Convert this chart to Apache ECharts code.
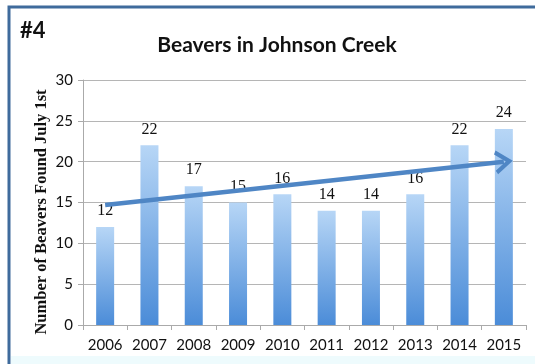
<!DOCTYPE html>
<html><head><meta charset="utf-8">
<script src="https://cdn.jsdelivr.net/npm/echarts@6/dist/echarts.min.js"></script>
<style>html,body{margin:0;padding:0;background:#fff}#c{width:535px;height:364px}</style>
</head><body><div id="c"></div>
<script>
const years = ['2006','2007','2008','2009','2010','2011','2012','2013','2014','2015'];
const beavers = [12, 22, 17, 15, 16, 14, 14, 16, 22, 24];
const trendStart = ['2006', 14.7];
const trendEnd = ['2015', 20];
const yTicks = [0, 5, 10, 15, 20, 25, 30];

const chart = echarts.init(document.getElementById('c'));
chart.setOption({
  animation: false,
  backgroundColor: '#ffffff',
  title: {
    text: 'Beavers in Johnson Creek',
    left: 272, top: 30, textAlign: 'center',
    textStyle: { fontFamily: 'Lato', fontWeight: 'bold', fontSize: 21, color: '#111' }
  },
  graphic: [
    { type: 'rect', shape: { x: 9, y: 7, width: 540, height: 400 }, style: { fill: 'none', stroke: '#3f6b9c', lineWidth: 3 }, z: 10 },
    { type: 'rect', shape: { x: 11, y: 356, width: 530, height: 10 }, style: { fill: '#eefbfd' }, z: 0 },
    { type: 'text', left: 20, top: 20, style: { text: '#4', font: 'bold 22px Lato', fill: '#111' } },
    { type: 'text', x: 42, y: 212, rotation: Math.PI / 2,
      style: { text: 'Number of Beavers Found July 1st', font: 'bold 16.5px "Liberation Serif"', fill: '#111', align: 'center', verticalAlign: 'middle' } }
  ],
  grid: { left: 83, right: 9, top: 80, bottom: 39 },
  xAxis: {
    type: 'category', data: years,
    axisLine: { lineStyle: { color: '#aaaaaa' } },
    axisTick: { show: true, alignWithLabel: false, length: 5, lineStyle: { color: '#aaaaaa' } },
    axisLabel: { interval: 0, fontFamily: 'Lato', fontSize: 15, color: '#111', margin: 13 }
  },
  yAxis: {
    type: 'value', min: yTicks[0], max: yTicks[yTicks.length - 1], interval: 5,
    axisLine: { show: true, lineStyle: { color: '#aaaaaa' } },
    axisTick: { show: true, length: 5, lineStyle: { color: '#aaaaaa' } },
    splitLine: { lineStyle: { color: '#b5b5b5' } },
    axisLabel: { fontFamily: 'Lato', fontSize: 15, color: '#111', margin: 10 }
  },
  series: [{
    type: 'bar', data: beavers, barWidth: 18,
    itemStyle: {
      color: new echarts.graphic.LinearGradient(0, 0, 0, 1, [
        { offset: 0, color: '#b7d6f6' },
        { offset: 1, color: '#4b8cd8' }
      ])
    },
    label: { show: true, position: 'top', distance: 8, fontFamily: 'Liberation Serif', fontSize: 16, color: '#111' },
    markLine: {
      silent: true,
      symbol: ['none', 'path://M0,10 L5,0 L10,10 L8.4,11.2 L5,4.4 L1.6,11.2 Z'],
      symbolSize: [24, 18],
      symbolOffset: [0, 0],
      label: { show: false },
      lineStyle: { color: '#4f86c5', width: 4.5, type: 'solid' },
      data: [[{ coord: trendStart }, { coord: trendEnd }]]
    }
  }]
});
</script></body></html>
